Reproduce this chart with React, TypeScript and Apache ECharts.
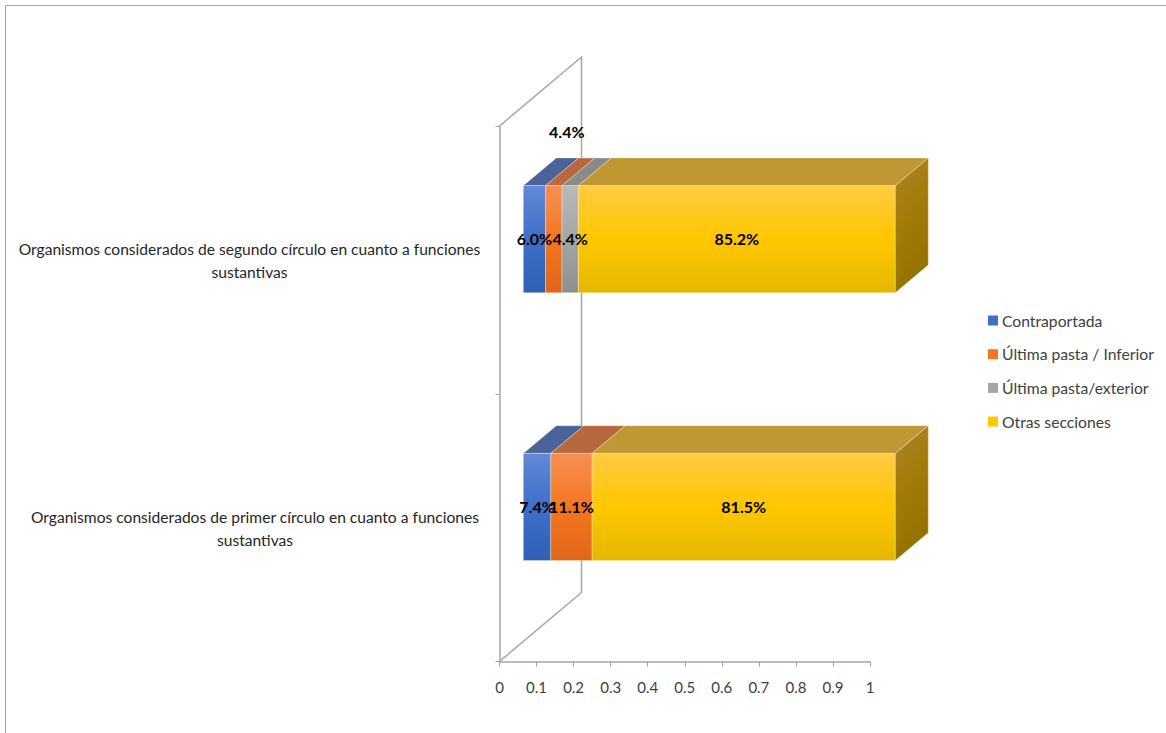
import React, { useEffect, useRef } from "react";
import * as echarts from "echarts";

const categories = [
  "Organismos considerados de primer círculo en cuanto a funciones\nsustantivas",
  "Organismos considerados de segundo círculo en cuanto a funciones\nsustantivas",
];
const seriesNames = ["Contraportada", "Última pasta / Inferior", "Última pasta/exterior", "Otras secciones"];
const contraportada = [0.074, 0.06];
const ultimaPastaInferior = [0.111, 0.044];
const ultimaPastaExterior = [0, 0.044];
const otrasSecciones = [0.815, 0.852];
const xTicks = [0, 0.1, 0.2, 0.3, 0.4, 0.5, 0.6, 0.7, 0.8, 0.9, 1];

const allValues = [contraportada, ultimaPastaInferior, ultimaPastaExterior, otrasSecciones];

const FONT = "Lato";
const frontGradients = [
  ["#6388D6", "#3F6FC9", "#2F60B6"],
  ["#F68F55", "#F5761F", "#DF6519"],
  ["#B9B9B9", "#A5A5A5", "#8F8F8F"],
  ["#FFCB42", "#FFC700", "#E5B700"],
];
const topColors = ["#4A6499", "#B7683F", "#8A8A8A", "#BF9834"];
const legendColors = ["#3F6FC9", "#F5761F", "#A5A5A5", "#FFC700"];
const EDGE = "rgba(255,245,215,0.35)";

const grad = (c: string[], x2 = 0, y2 = 1) =>
  new echarts.graphic.LinearGradient(0, 0, x2, y2, [
    { offset: 0, color: c[0] },
    { offset: 0.5, color: c[1] },
    { offset: 1, color: c[2] },
  ]);

// Projection of the 3D box
const FRONT_DX = 23.8;
const FRONT_DY = -20.7;
const DEPTH_DX = 33;
const DEPTH_DY = -27.7;
const BAR_RATIO = 0.4;
const FRONT_SCALE = 1.004;
const WALL_DX = 82;
const WALL_DY = -69;

const pct = (v: number) => (v * 100).toFixed(1) + "%";

function barSeries(si: number) {
  const data = categories.map((_, ci) => {
    let start = 0;
    for (let k = 0; k < si; k++) start += allValues[k][ci];
    return [start, start + allValues[si][ci], ci, allValues[si][ci]];
  });
  return {
    type: "custom",
    name: seriesNames[si],
    silent: true,
    itemStyle: { color: legendColors[si] },
    encode: { x: [0, 1], y: 2 },
    data,
    renderItem: (params: any, api: any) => {
      const value = api.value(3);
      if (!value) return { type: "group", children: [] };
      const ci = api.value(2);
      const a = api.coord([api.value(0), ci]);
      const b = api.coord([api.value(1), ci]);
      const h = api.size([0, 1])[1] * BAR_RATIO;
      const ox = params.coordSys.x;
      const x0 = ox + (a[0] - ox) * FRONT_SCALE + FRONT_DX;
      const x1 = ox + (b[0] - ox) * FRONT_SCALE + FRONT_DX;
      const yT = a[1] + FRONT_DY - h / 2;
      const yB = yT + h;
      const children: any[] = [
        {
          type: "polygon",
          shape: {
            points: [
              [x0, yT],
              [x1, yT],
              [x1 + DEPTH_DX, yT + DEPTH_DY],
              [x0 + DEPTH_DX, yT + DEPTH_DY],
            ],
          },
          style: { fill: topColors[si], stroke: EDGE, lineWidth: 1 },
        },
        {
          type: "rect",
          shape: { x: x0, y: yT, width: x1 - x0, height: h },
          style: { fill: grad(frontGradients[si]), stroke: EDGE, lineWidth: 1 },
        },
      ];
      if (si === allValues.length - 1) {
        children.push({
          type: "polygon",
          shape: {
            points: [
              [x1, yT],
              [x1 + DEPTH_DX, yT + DEPTH_DY],
              [x1 + DEPTH_DX, yB + DEPTH_DY],
              [x1, yB],
            ],
          },
          style: { fill: grad(["#AD842C", "#A37C08", "#947200"], 0.3, 1), stroke: EDGE, lineWidth: 1 },
        });
      }
      const displaced = si === 1 && ci === 1;
      children.push({
        type: "text",
        z2: 100,
        x: (x0 + x1) / 2 + (displaced ? 13 : 0),
        y: (yT + yB) / 2 - 0.5 + (displaced ? -107 : 0),
        style: {
          text: pct(value),
          fill: "#000",
          font: `bold 16px ${FONT}`,
          textAlign: "center",
          textVerticalAlign: "middle",
        },
      });
      return { type: "group", children };
    },
  };
}

const wallSeries = {
  type: "custom",
  name: "wall",
  silent: true,
  z: 1,
  encode: { x: 0, y: 1 },
  data: [[0, 0]],
  renderItem: (params: any) => {
    const c = params.coordSys;
    return {
      type: "polyline",
      shape: {
        points: [
          [c.x, c.y + c.height],
          [c.x + WALL_DX, c.y + c.height + WALL_DY],
          [c.x + WALL_DX, c.y + WALL_DY],
          [c.x, c.y],
        ],
      },
      style: { fill: "none", stroke: "#A6A6A6", lineWidth: 1.5 },
    };
  },
};

export default function App() {
  const ref = useRef<HTMLDivElement>(null);
  useEffect(() => {
    const chart = echarts.init(ref.current!, undefined, { renderer: "svg" });
    chart.setOption({
      animation: false,
      backgroundColor: "#FFFFFF",
      textStyle: { fontFamily: FONT },
      grid: { left: 499.5, top: 126, width: 370.5, height: 535.5, containLabel: false },
      legend: {
        orient: "vertical",
        left: 983,
        top: 306,
        itemWidth: 10,
        itemHeight: 10,
        itemGap: 14.7,
        icon: "rect",
        data: seriesNames,
        selectedMode: false,
        textStyle: { fontFamily: FONT, fontSize: 15.7, color: "#404040", padding: [0, 0, 0, -1], lineHeight: 19 },
      },
      xAxis: {
        type: "value",
        min: 0,
        max: 1,
        interval: 0.1,
        splitLine: { show: false },
        axisLine: { show: true, lineStyle: { color: "#A6A6A6", width: 1.5 } },
        axisTick: { show: true, length: 5, lineStyle: { color: "#A6A6A6" } },
        axisLabel: {
          margin: 17.5,
          fontFamily: FONT,
          fontSize: 15,
          color: "#404040",
          hideOverlap: false,
          formatter: (v: number) => String(xTicks.find((t) => Math.abs(t - v) < 1e-9) ?? v),
        },
      },
      yAxis: {
        type: "category",
        data: categories,
        splitLine: { show: false },
        axisLine: { show: true, lineStyle: { color: "#A6A6A6", width: 1.5 } },
        axisTick: { show: true, length: 4, alignWithLabel: false, lineStyle: { color: "#A6A6A6" } },
        axisLabel: {
          margin: 19,
          interval: 0,
          padding: [2, 0, 0, 0],
          formatter: (v: string) => {
            const key = v.includes("primer") ? "p" : "s";
            return v
              .split("\n")
              .map((l) => `{${key}|${l}}`)
              .join("\n");
          },
          rich: {
            p: { width: 451, align: "center", fontFamily: FONT, fontSize: 15.6, color: "#262626", lineHeight: 23 },
            s: { width: 462, align: "center", fontFamily: FONT, fontSize: 15.6, color: "#262626", lineHeight: 23 },
          },
        },
      },
      graphic: [
        {
          type: "polyline",
          silent: true,
          shape: { points: [[5.5, 733], [5.5, 5.5], [1166, 5.5]] },
          style: { fill: "none", stroke: "#A0A0A0", lineWidth: 1 },
        },
      ],
      series: [wallSeries, ...allValues.map((_, i) => barSeries(i))],
    });
    return () => chart.dispose();
  }, []);
  return <div ref={ref} style={{ position: "absolute", left: 0, top: 0, width: 1166, height: 733 }} />;
}
